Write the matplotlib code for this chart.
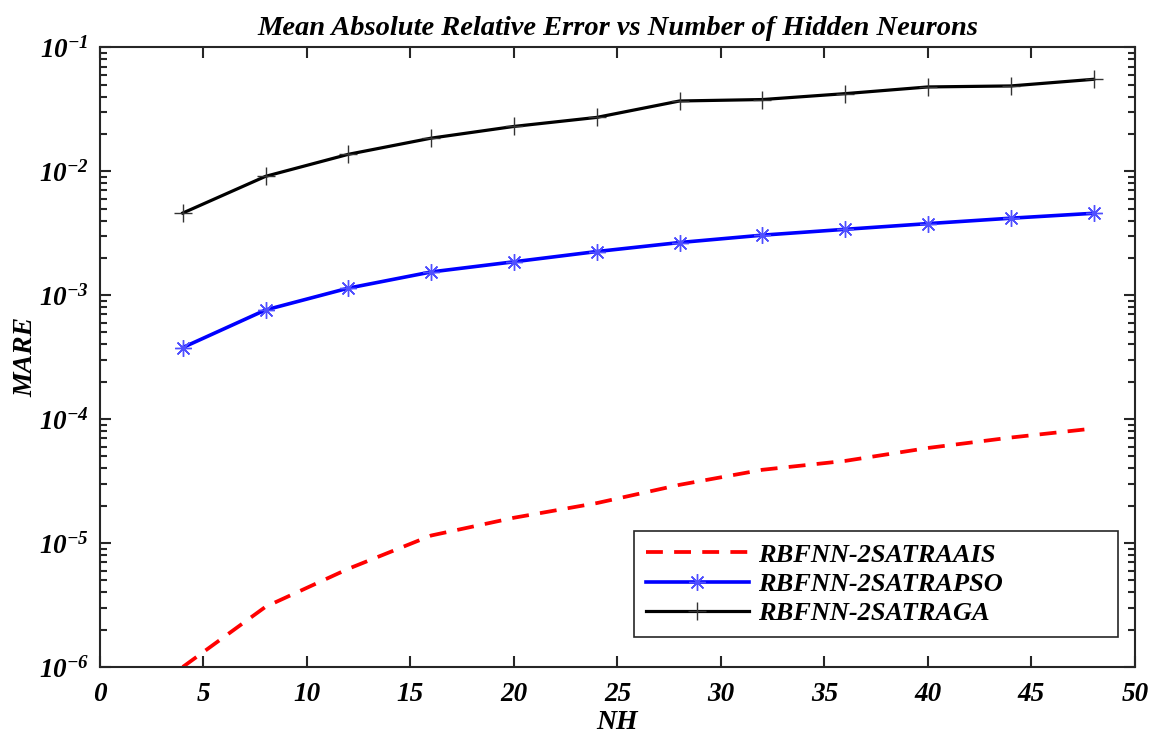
import numpy as np
import matplotlib
matplotlib.use("Agg")
import matplotlib.pyplot as plt
from matplotlib.ticker import LogLocator, NullFormatter, MultipleLocator

plt.rcParams.update({
    'font.family': 'Liberation Serif',
    'font.weight': 'bold',
    'font.style': 'italic',
    'axes.labelweight': 'bold',
    'axes.titleweight': 'bold',
    'mathtext.fontset': 'custom',
    'mathtext.rm': 'Liberation Serif:bold:italic',
    'mathtext.it': 'Liberation Serif:bold:italic',
    'mathtext.bf': 'Liberation Serif:bold:italic',
})

# -----------------------
# Data
# -----------------------
nh = [4, 8, 12, 16, 20, 24, 28, 32, 36, 40, 44, 48]

mare_ais = [1.0e-6, 3.06e-6, 6.2e-6, 1.15e-5, 1.6e-5, 2.1e-5,
            2.95e-5, 3.9e-5, 4.6e-5, 5.85e-5, 7.1e-5, 8.4e-5]
mare_pso = [3.78e-4, 7.6e-4, 1.14e-3, 1.54e-3, 1.86e-3, 2.25e-3,
            2.66e-3, 3.05e-3, 3.40e-3, 3.78e-3, 4.18e-3, 4.58e-3]
mare_ga = [4.6e-3, 9.1e-3, 1.37e-2, 1.85e-2, 2.3e-2, 2.72e-2,
           3.69e-2, 3.79e-2, 4.23e-2, 4.79e-2, 4.88e-2, 5.52e-2]

labels = ['RBFNN-2SATRAAIS', 'RBFNN-2SATRAPSO', 'RBFNN-2SATRAGA']

# Plot
# ------------------------------------------------------------------
fig = plt.figure(figsize=(11.52, 7.36), dpi=100)
ax = fig.add_axes([0.0868, 0.0938, 0.8984, 0.8419])

ax.plot(nh, mare_ais, color='#ff0000', linewidth=2.7, dashes=(4.5, 3),
        label=labels[0])
ax.plot(nh, mare_pso, color='#0000ff', linewidth=2.6, marker=(8, 2, 0),
        markersize=12, markeredgewidth=1.0, markeredgecolor='#4f4fff',
        label=labels[1])
ax.plot(nh, mare_ga, color='black', linewidth=2.3, marker='+',
        markersize=13, markeredgewidth=1.0, markeredgecolor='#333333',
        label=labels[2])

ax.set_yscale('log')
ax.set_xlim(0, 50)
ax.set_ylim(1e-6, 1e-1)
ax.xaxis.set_major_locator(MultipleLocator(5))
ax.yaxis.set_major_locator(LogLocator(base=10, numticks=10))
ax.yaxis.set_minor_locator(LogLocator(base=10, subs=np.arange(2, 10), numticks=20))
ax.yaxis.set_minor_formatter(NullFormatter())

for s in ax.spines.values():
    s.set_linewidth(1.5)
    s.set_color('#262626')
ax.tick_params(which='both', direction='in', top=True, right=True,
               color='#262626', width=1.5)
ax.tick_params(which='major', length=8, labelsize=19.5)
ax.tick_params(axis='x', which='major', pad=11)
ax.tick_params(axis='y', which='major', pad=8)
ax.tick_params(which='minor', length=5)

ax.set_title('Mean Absolute Relative Error vs Number of Hidden Neurons',
             fontsize=20.5, pad=9)
ax.set_xlabel('NH', fontsize=20, labelpad=2)
ax.set_ylabel('MARE', fontsize=20, labelpad=0)

# legend box as wide as in the original (MATLAB leaves space on the right)
leg = ax.legend(loc='lower left',
                bbox_to_anchor=(634 / 1152, 1 - 637 / 736, 484 / 1152, 0.1),
                bbox_transform=fig.transFigure, mode='expand', borderaxespad=0,
                fontsize=19, handlelength=3.9, handletextpad=0.35,
                fancybox=False, framealpha=1, edgecolor='#262626',
                borderpad=0.45, labelspacing=0.22)
leg.get_frame().set_linewidth(1.2)

fig.savefig('out.png', dpi=100)
